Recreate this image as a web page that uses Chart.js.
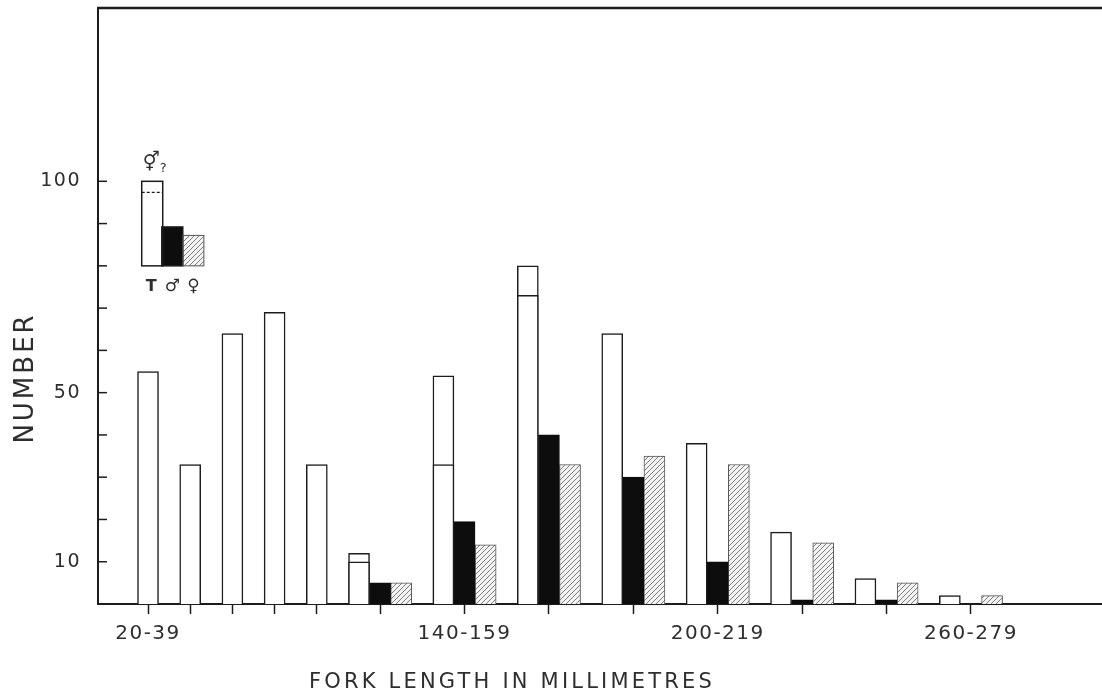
<!DOCTYPE html>
<html><head><meta charset="utf-8">
<script src="https://cdn.jsdelivr.net/npm/chart.js@4.4.1/dist/chart.umd.min.js"></script>
<style>html,body{margin:0;padding:0;background:#fff}#wrap{width:1102px;height:699px}</style>
</head><body><div id="wrap"><canvas id="c" width="1102" height="699"></canvas></div>
<script>
// ---- data ----
const classes = ['20-39','40-59','60-79','80-99','100-119','120-139','140-159','160-179','180-199','200-219','220-239','240-259','260-279'];
// position of each class's total bar along the axis, in bar-width units
const classPos = [0, 2, 4, 6, 8, 10, 14, 18, 22, 26, 30, 34, 38];
const totalN  = [55, 33, 64, 69, 33, 12, 54, 80, 64, 38, 17, 6, 2];
const sexedN  = [null, null, null, null, null, 10, 33, 73, null, null, null, null, null];
const maleN   = [null, null, null, null, null, 5, 19.5, 40, 30, 10, 1, 1, null];
const femaleN = [null, null, null, null, null, 5, 14, 33, 35, 33, 14.5, 5, 2];
const labelledClasses = ['20-39', '140-159', '200-219', '260-279'];
const yTickValues = [10, 20, 30, 40, 50, 60, 70, 80, 90, 100];
const yLabelled = [10, 50, 100];

const tickPos = classPos.map((p, i) => femaleN[i] != null ? p + 1 : p);

function pts(vals, shift) {
  const out = [];
  vals.forEach((v, i) => { if (v != null) out.push({x: classPos[i] + shift, y: v}); });
  return out;
}

// hatch pattern
const pc = document.createElement('canvas');
pc.width = 5; pc.height = 5;
const pctx = pc.getContext('2d');
pctx.fillStyle = '#f3f3f3'; pctx.fillRect(0, 0, 5, 5);
pctx.strokeStyle = '#707070'; pctx.lineWidth = 0.9;
pctx.beginPath();
pctx.moveTo(0, 5); pctx.lineTo(5, 0);
pctx.moveTo(-1, 1); pctx.lineTo(1, -1);
pctx.moveTo(4, 6); pctx.lineTo(6, 4);
pctx.stroke();
const ctx0 = document.getElementById('c').getContext('2d');
const hatch = ctx0.createPattern(pc, 'repeat');

const INK = '#1c1c1c';
const TXT = '#2e2e2e';

const decor = {
  id: 'decor',
  beforeDraw(chart) { chart.ctx.letterSpacing = '1.5px'; },
  afterDraw(chart) {
    const {ctx, chartArea: a, scales: {x, y}} = chart;
    ctx.save();
    ctx.letterSpacing = '0px';
    // top frame line
    ctx.strokeStyle = INK; ctx.lineWidth = 2.5;
    ctx.beginPath(); ctx.moveTo(a.left - 1, a.top); ctx.lineTo(a.right, a.top); ctx.stroke();
    // inward y tick marks
    ctx.lineWidth = 1.5;
    yTickValues.forEach(v => {
      const py = y.getPixelForValue(v);
      ctx.beginPath(); ctx.moveTo(a.left, py); ctx.lineTo(a.left + 9, py); ctx.stroke();
    });
    // key (legend) drawn as a miniature bar group
    const w = 21;
    const bot = y.getPixelForValue(80);
    const xT = x.getPixelForValue(0.2), xM = x.getPixelForValue(1.15), xF = x.getPixelForValue(2.15);
    const tT = y.getPixelForValue(100), tM = y.getPixelForValue(89.2), tF = y.getPixelForValue(87.2);
    ctx.fillStyle = '#fff'; ctx.fillRect(xT - w/2, tT, w, bot - tT);
    ctx.fillStyle = '#0d0d0d'; ctx.fillRect(xM - w/2, tM, w, bot - tM);
    ctx.fillStyle = hatch; ctx.fillRect(xF - w/2, tF, w, bot - tF);
    ctx.lineWidth = 1.5; ctx.strokeStyle = INK;
    ctx.strokeRect(xT - w/2, tT, w, bot - tT);
    ctx.strokeRect(xM - w/2, tM, w, bot - tM);
    ctx.strokeStyle = '#555'; ctx.lineWidth = 1;
    ctx.strokeRect(xF - w/2, tF, w, bot - tF);
    ctx.strokeStyle = INK; ctx.lineWidth = 1.2; ctx.setLineDash([3, 2]);
    const il = y.getPixelForValue(97.4);
    ctx.beginPath(); ctx.moveTo(xT - w/2, il); ctx.lineTo(xT + w/2, il); ctx.stroke();
    ctx.setLineDash([]);
    ctx.fillStyle = TXT; ctx.textAlign = 'center'; ctx.textBaseline = 'alphabetic';
    ctx.font = 'bold 16px "DejaVu Sans"';
    ctx.fillText('T', xT - 1, bot + 25);
    ctx.font = '17px "DejaVu Sans"';
    ctx.fillText('♂', xM, bot + 25);
    ctx.fillText('♀', xF, bot + 25);
    ctx.font = '19px "DejaVu Sans"';
    ctx.fillText('⚥', xT - 1, tT - 13);
    ctx.font = '13px "DejaVu Sans"';
    ctx.fillText('?', xT + 11, tT - 9);
    // axis titles
    ctx.fillStyle = TXT;
    ctx.font = '21px "DejaVu Sans"';
    ctx.letterSpacing = '3.2px';
    ctx.textAlign = 'center';
    ctx.fillText('FORK LENGTH IN MILLIMETRES', 512, 688);
    ctx.translate(33, 378);
    ctx.rotate(-Math.PI / 2);
    ctx.font = '26px "DejaVu Sans"';
    ctx.letterSpacing = '3px';
    ctx.fillText('NUMBER', 0, 0);
    ctx.restore();
  }
};

new Chart(ctx0, {
  type: 'bar',
  data: {
    datasets: [
      { label: 'sexed', data: pts(sexedN, 0), backgroundColor: '#fff', borderColor: INK, borderWidth: 1.5, order: 0 },
      { label: 'T', data: pts(totalN, 0), backgroundColor: '#fff', borderColor: INK, borderWidth: 1.5, order: 1 },
      { label: '♂', data: pts(maleN, 1), backgroundColor: '#0d0d0d', borderColor: '#0d0d0d', borderWidth: 1, order: 2 },
      { label: '♀', data: pts(femaleN, 2), backgroundColor: hatch, borderColor: '#555', borderWidth: 1, order: 3 }
    ]
  },
  options: {
    responsive: false,
    animation: false,
    devicePixelRatio: 1,
    layout: { padding: { top: 8, right: 0, left: 0, bottom: 0 }, autoPadding: false },
    datasets: { bar: { grouped: false, barThickness: 21 } },
    plugins: { legend: { display: false }, tooltip: { enabled: false }, title: { display: false } },
    scales: {
      x: {
        type: 'linear', min: -2.37, max: 45.21, offset: false,
        afterBuildTicks: s => { s.ticks = tickPos.map(v => ({ value: v })); },
        afterFit: s => { s.height = 95; s.paddingLeft = 0; s.paddingRight = 0; },
        grid: { display: true, offset: false, drawOnChartArea: false, drawTicks: true, tickLength: 10, tickColor: INK, tickWidth: 1.5 },
        border: { display: true, color: INK, width: 2 },
        ticks: {
          autoSkip: false, maxRotation: 0, padding: 8, color: TXT,
          font: { family: '"DejaVu Sans"', size: 20 },
          callback: (v, i) => labelledClasses.includes(classes[i]) ? classes[i] : ''
        }
      },
      y: {
        type: 'linear', min: 0, max: 141,
        afterBuildTicks: s => { s.ticks = yTickValues.map(v => ({ value: v })); },
        afterFit: s => { s.width = 98; s.paddingTop = 0; s.paddingBottom = 0; },
        grid: { display: false, drawTicks: false },
        border: { display: true, color: INK, width: 2 },
        ticks: {
          padding: 17, color: TXT,
          font: { family: '"DejaVu Sans"', size: 19 },
          callback: v => yLabelled.includes(v) ? String(v) : ''
        }
      }
    }
  },
  plugins: [decor]
});
</script>
</body></html>
